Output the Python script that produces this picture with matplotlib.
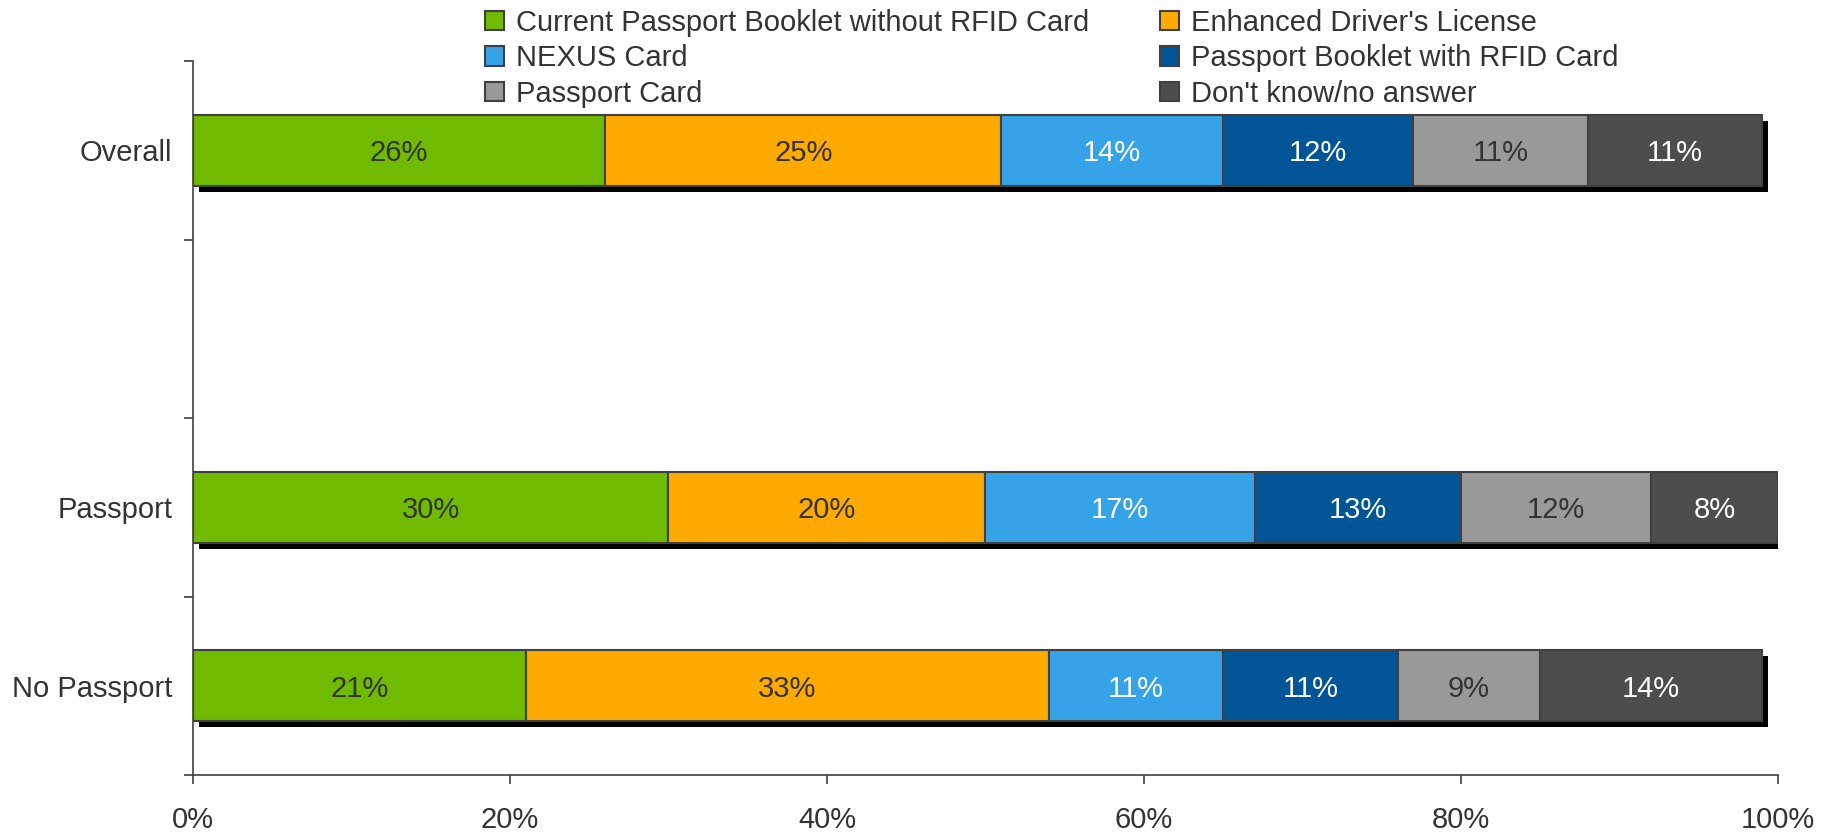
import matplotlib
matplotlib.use("Agg")
import matplotlib.pyplot as plt
import matplotlib.patheffects as pe
from matplotlib.patches import Patch
import numpy as np

plt.rcParams['font.family'] = ['Liberation Sans', 'DejaVu Sans']

categories = ["Overall", "", "Passport", "No Passport"]
series = ["Current Passport Booklet without RFID Card", "Enhanced Driver's License",
          "NEXUS Card", "Passport Booklet with RFID Card", "Passport Card",
          "Don't know/no answer"]
values = {
    "Overall":     [26, 25, 14, 12, 11, 11],
    "Passport":    [30, 20, 17, 13, 12, 8],
    "No Passport": [21, 33, 11, 11, 9, 14],
}
colors = ["#70BA00", "#FFAA00", "#36A2E8", "#005596", "#999999", "#4D4D4D"]
text_colors = ["#333333", "#333333", "white", "white", "#333333", "white"]
xticks = [0, 20, 40, 60, 80, 100]
xticklabels = ["0%", "20%", "40%", "60%", "80%", "100%"]

fig = plt.figure(figsize=(18.31, 8.36), dpi=100)
ax = fig.add_axes([193/1831, 1-775/836, (1778-193)/1831, (775-61)/836])

FS = 21
edge = "#404040"
shadow = [pe.SimplePatchShadow(offset=(4.3, -4.3), shadow_rgbFace="black", alpha=1.0), pe.Normal()]

handles = []
for i, s in enumerate(series):
    ys, ws, ls = [], [], []
    for j, c in enumerate(categories):
        if c in values:
            ys.append(j)
            ws.append(values[c][i])
            ls.append(sum(values[c][:i]))
    bars = ax.barh(ys, ws, left=ls, height=0.4, color=colors[i], edgecolor=edge,
                   linewidth=1.5, zorder=3 + i)
    for b in bars:
        b.set_path_effects(shadow)
    for y, w, l in zip(ys, ws, ls):
        ax.text(l + w / 2, y, f"{w}%", ha="center", va="center_baseline", fontsize=FS,
                color=text_colors[i], zorder=20)
    handles.append(Patch(facecolor=colors[i], edgecolor=edge, linewidth=1.5, label=s))

ax.set_xlim(0, 100)
ax.set_ylim(3.5, -0.5)
ax.set_xticks(xticks)
ax.set_xticklabels(xticklabels, fontsize=FS, color="#333333")
ax.set_yticks(range(len(categories)))
ax.set_yticklabels(categories, fontsize=FS, color="#333333")
ax.set_yticks(np.arange(-0.5, len(categories), 1.0), minor=True)
ax.tick_params(axis="y", which="major", length=0, pad=15)
ax.tick_params(axis="y", which="minor", length=6.5, width=1.2, color=edge, direction="out")
ax.tick_params(axis="x", which="major", length=6.5, width=1.2, color=edge, direction="out", pad=16)
for sp in ["top", "right"]:
    ax.spines[sp].set_visible(False)
for sp in ["left", "bottom"]:
    ax.spines[sp].set_color(edge)
    ax.spines[sp].set_linewidth(1.2)

order = [0, 2, 4, 1, 3, 5]
leg = fig.legend([handles[k] for k in order], [series[k] for k in order], ncol=2,
                 loc="upper left", bbox_to_anchor=(485/1831, 1 - 9/836),
                 frameon=False, fontsize=FS, handlelength=0.65, handleheight=0.65,
                 handletextpad=0.4, columnspacing=2.45, labelspacing=0.25,
                 borderpad=0, borderaxespad=0)
for t in leg.get_texts():
    t.set_color("#333333")

fig.savefig("out.png", dpi=100, facecolor="white")
